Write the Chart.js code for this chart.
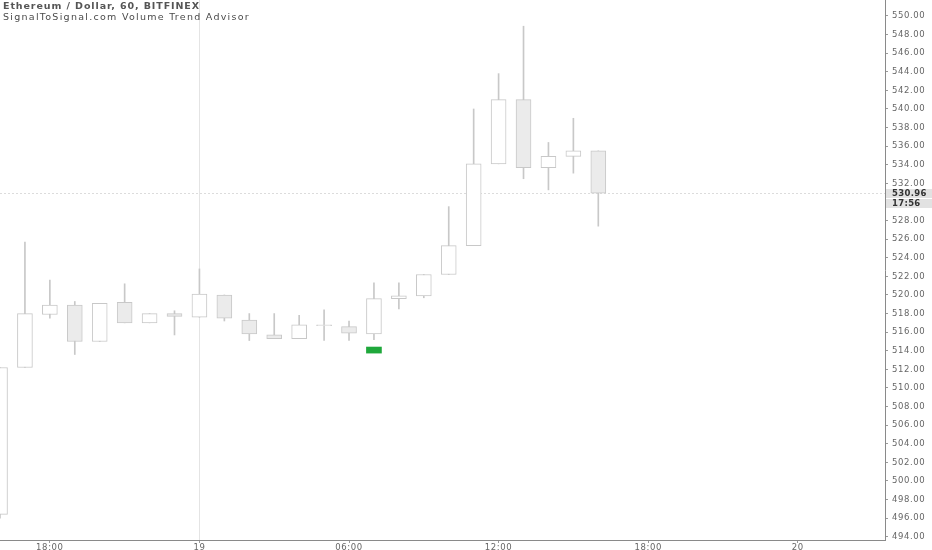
<!DOCTYPE html>
<html>
<head>
<meta charset="utf-8">
<script src="https://cdn.jsdelivr.net/npm/chart.js@4/dist/chart.umd.min.js"></script>
<style>
html,body{margin:0;padding:0;background:#fff;overflow:hidden;}
#wrap{position:relative;width:932px;height:550px;}
canvas{position:absolute;left:0;top:0;}
.t1,.t2{position:absolute;left:3px;font-family:"DejaVu Sans",sans-serif;font-size:9.5px;color:#4a4a4a;white-space:nowrap;line-height:11px;}
.t1{top:0px;font-weight:bold;color:#555;}
.t2{top:10.5px;}
.pl{position:absolute;left:886px;width:46px;height:9px;background:#e2e2e2;font-family:"DejaVu Sans",sans-serif;font-size:8.5px;line-height:9px;color:#333;font-weight:bold;text-align:left;padding-left:6px;box-sizing:border-box;letter-spacing:0.3px;}
</style>
</head>
<body>
<div id="wrap">
<canvas id="c" width="932" height="550"></canvas>
<div class="t1" id="t1">Ethereum / Dollar, 60, BITFINEX</div>
<div class="t2" id="t2">SignalToSignal.com Volume Trend Advisor</div>
<div class="pl" id="pl1">530.96</div>
<div class="pl" id="pl2">17:56</div>
</div>
<script>
// Hourly candles, index 0 = 16:00 on the 18th
const hours = ['16:00','17:00','18:00','19:00','20:00','21:00','22:00','23:00','00:00','01:00','02:00','03:00','04:00','05:00','06:00','07:00','08:00','09:00','10:00','11:00','12:00','13:00','14:00','15:00','16:00'];
const openV  = [496.4,512.2,517.9,518.9,515.0,519.2,517.0,518.0,517.6,520.0,517.3,515.7,515.3,516.8,516.6,515.8,519.6,519.9,522.2,525.3,534.1,541.0,533.7,534.9,535.5];
const highV  = [512.2,525.7,521.6,519.3,519.1,521.2,518.0,518.3,522.8,520.0,518.0,518.0,517.8,518.4,517.2,521.3,521.3,522.2,529.5,540.0,543.8,548.9,536.4,539.0,535.5];
const lowV   = [496.0,512.2,517.5,513.6,515.0,517.0,517.0,515.7,517.6,517.2,515.1,515.3,515.3,515.1,515.1,515.2,518.5,519.7,522.2,525.3,534.1,532.5,531.3,533.1,527.4];
const closeV = [512.2,518.0,518.9,515.0,519.1,517.0,518.0,517.7,520.1,517.5,515.8,515.3,516.8,516.7,515.9,519.6,519.9,522.2,525.3,534.1,541.0,533.7,534.9,535.5,530.96];
// signal marker (green box) at 07:00
const signalIdx = [15];
const signalRange = [[513.75, 514.4]];
const lastPrice = 530.96;
const countdown = '17:56';
// axis tick labels
const xTickPos = [2, 8, 14, 20, 26, 32];
const xTickLabels = ['18:00', '19', '06:00', '12:00', '18:00', '20'];
const yTickVals = [494,496,498,500,502,504,506,508,510,512,514,516,518,520,522,524,526,528,532,534,536,538,540,542,544,546,548,550];
const crossX = 8;

// stretch title lines to the reference widths
function fitWidth(id, target){
  const el = document.getElementById(id);
  const w = el.getBoundingClientRect().width;
  const n = el.textContent.length;
  el.style.letterSpacing = ((target - w) / n) + 'px';
}
fitWidth('t1', 197);
fitWidth('t2', 247);

const bodies = hours.map((h,i)=>({x:i, y:[openV[i], closeV[i]]}));
const wicks = hours.map((h,i)=>({x:i, y:[lowV[i], highV[i]]}));
const bodyFill = hours.map((h,i)=> closeV[i] >= openV[i] ? '#ffffff' : '#ebebeb');
const signals = signalIdx.map((ix,k)=>({x:ix, y:signalRange[k]}));

const linesPlugin = {
  id:'lines',
  beforeDraw(chart){
    chart.ctx.letterSpacing = '0.6px';
  },
  beforeDatasetsDraw(chart){
    const {ctx, chartArea:a, scales:{x,y}} = chart;
    ctx.save();
    ctx.strokeStyle = '#e4e4e4';
    ctx.lineWidth = 1;
    const px = Math.round(x.getPixelForValue(crossX)) + 0.5;
    ctx.beginPath(); ctx.moveTo(px, a.top); ctx.lineTo(px, a.bottom); ctx.stroke();
    const py = Math.round(y.getPixelForValue(lastPrice)) + 0.5;
    ctx.strokeStyle = '#dcdcdc';
    ctx.setLineDash([2,2]);
    ctx.beginPath(); ctx.moveTo(a.left, py); ctx.lineTo(a.right, py); ctx.stroke();
    ctx.restore();
  },
  afterRender(chart){
    const py = chart.scales.y.getPixelForValue(lastPrice);
    const p1 = document.getElementById('pl1');
    const p2 = document.getElementById('pl2');
    p1.style.top = (py - 4.5) + 'px';
    p2.style.top = (py + 5.5) + 'px';
    p1.textContent = lastPrice.toFixed(2);
    p2.textContent = countdown;
  }
};

function noPad(s){ s.paddingTop = 0; s.paddingBottom = 0; s.paddingLeft = 0; s.paddingRight = 0; }

new Chart(document.getElementById('c'), {
  type:'bar',
  data:{
    datasets:[
      {data:bodies, backgroundColor:bodyFill, borderColor:'#c8c8c8', borderWidth:1, borderSkipped:false, barThickness:15, grouped:false},
      {data:signals, backgroundColor:'#1fa83b', borderWidth:0, barThickness:15, grouped:false},
      {data:wicks, backgroundColor:'#c8c8c8', borderWidth:0, barThickness:1, grouped:false}
    ]
  },
  options:{
    responsive:false,
    animation:false,
    layout:{padding:0},
    plugins:{legend:{display:false}, tooltip:{enabled:false}},
    scales:{
      x:{
        type:'linear', min:0, max:35.5, offset:false,
        grid:{display:true, offset:false, drawOnChartArea:false, drawTicks:true, tickLength:3, color:'#9a9a9a'},
        border:{display:true, color:'#8a8a8a'},
        ticks:{font:{family:'DejaVu Sans', size:8.5}, color:'#666', padding:0, maxRotation:0, autoSkip:false,
          callback:(v)=>{const k = xTickPos.indexOf(v); return k>=0 ? xTickLabels[k] : '';}},
        afterBuildTicks:(s)=>{ s.ticks = xTickPos.map(v=>({value:v})); },
        afterFit:(s)=>{ s.height = 10; noPad(s); }
      },
      y:{
        position:'right', min:493.65, max:551.72,
        grid:{display:true, drawOnChartArea:false, drawTicks:true, tickLength:3, color:'#9a9a9a'},
        border:{display:true, color:'#8a8a8a'},
        ticks:{font:{family:'DejaVu Sans', size:8.5}, color:'#666', padding:4, autoSkip:false,
          callback:(v)=>Number(v).toFixed(2)},
        afterBuildTicks:(s)=>{ s.ticks = yTickVals.map(v=>({value:v})); },
        afterFit:(s)=>{ s.width = 47; noPad(s); }
      }
    }
  },
  plugins:[linesPlugin]
});
</script>
</body>
</html>
